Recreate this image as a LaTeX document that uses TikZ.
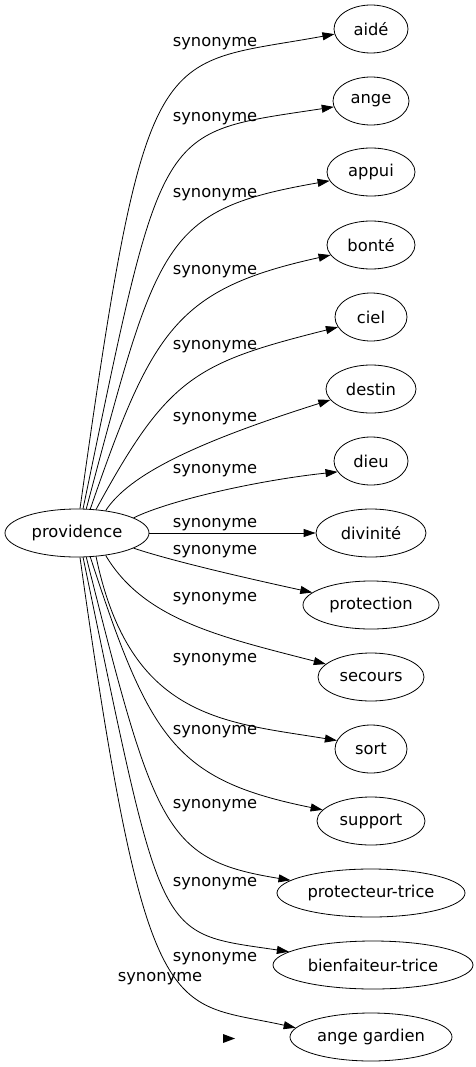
\documentclass[tikz,border=0pt]{standalone}
\usepackage{fontspec}
\setmainfont{DejaVu Sans}
\usetikzlibrary{arrows.meta,shapes.geometric}
\begin{document}
\begin{tikzpicture}[x=1pt,y=-1pt,
  every node/.style={font=\fontsize{16.3}{19}\selectfont},
  term/.style={draw, ellipse, inner sep=0pt, minimum height=48pt, line width=0.8pt},
  lab/.style={inner sep=0pt},
  syn/.style={-{Triangle[length=12pt,width=8pt]}, line width=0.8pt}]
\useasboundingbox (0,0) rectangle (475,1067);
% nodes
\node[term, minimum width=144pt] (prov) at (77,533) {providence};
\node[term, minimum width=74pt]  (n1)  at (371,29)   {aidé};
\node[term, minimum width=76pt]  (n2)  at (371,101)  {ange};
\node[term, minimum width=88pt]  (n3)  at (371,172)  {appui};
\node[term, minimum width=88pt]  (n4)  at (371,245)  {bonté};
\node[term, minimum width=72pt]  (n5)  at (371,317)  {ciel};
\node[term, minimum width=90pt]  (n6)  at (371,389)  {destin};
\node[term, minimum width=74pt]  (n7)  at (371,461)  {dieu};
\node[term, minimum width=110pt] (n8)  at (371,533)  {divinité};
\node[term, minimum width=136pt] (n9)  at (371,605)  {protection};
\node[term, minimum width=106pt] (n10) at (371,677)  {secours};
\node[term, minimum width=72pt]  (n11) at (371,749)  {sort};
\node[term, minimum width=108pt] (n12) at (371,821)  {support};
\node[term, minimum width=188pt] (n13) at (371,893)  {protecteur-trice};
\node[term, minimum width=200pt] (n14) at (373,965)  {bienfaiteur-trice};
\node[term, minimum width=162pt] (n15) at (371,1037) {ange gardien};
% edges
\draw[syn] (prov.83) .. controls (147,31) and (155,67) .. (n1.188);
\draw[syn] (prov.76) .. controls (164,119) and (156,134) .. (n2.189);
\draw[syn] (prov.69) .. controls (158,240) and (162,210) .. (n3.192);
\draw[syn] (prov.61) .. controls (152,330) and (176,289) .. (n4.194);
\draw[syn] (prov.51) .. controls (168,377) and (195,363) .. (n5.197);
\draw[syn] (prov.38) .. controls (129,475) and (194,443) .. (n6.195);
\draw[syn] (prov.15) .. controls (170,500) and (260,480) .. (n7.198);
\draw[syn] (prov.east) -- (n8.west);
\draw[syn] (prov.-15) .. controls (175,562) and (255,580) .. (n9.168);
\draw[syn] (prov.-38) .. controls (144,620) and (221,637) .. (n10.164);
\draw[syn] (prov.-51) .. controls (130,720) and (225,722) .. (n11.166);
\draw[syn] (prov.-61) .. controls (150,740) and (175,780) .. (n12.167);
\draw[syn] (prov.-69) .. controls (155,830) and (165,860) .. (n13.171);
\draw[syn] (prov.-76) .. controls (164,947) and (156,932) .. (n14.171);
\draw[syn] (prov.-83) .. controls (147,1035) and (170,1000) .. (n15.173);
% stray arrowhead
\fill (223,1034) -- (235,1038.5) -- (223,1043) -- cycle;
% labels
\node[lab] (l1)  at (215,44)  {synonyme};
\node[lab] (l2)  at (215,119) {synonyme};
\node[lab] (l3)  at (215,195) {synonyme};
\node[lab] (l4)  at (215,272) {synonyme};
\node[lab] (l5)  at (215,347) {synonyme};
\node[lab] (l6)  at (215,419) {synonyme};
\node[lab] (l7)  at (215,471) {synonyme};
\node[lab] (l8)  at (215,525) {synonyme};
\node[lab] (l9)  at (215,552) {synonyme};
\node[lab] (l10) at (215,599) {synonyme};
\node[lab] (l11) at (215,660) {synonyme};
\node[lab] (l12) at (215,732) {synonyme};
\node[lab] (l13) at (215,806) {synonyme};
\node[lab] (l14) at (215,884) {synonyme};
\node[lab] (l15) at (215,959) {synonyme};
\node[lab] (l16) at (160,979) {synonyme};
\end{tikzpicture}
\end{document}
